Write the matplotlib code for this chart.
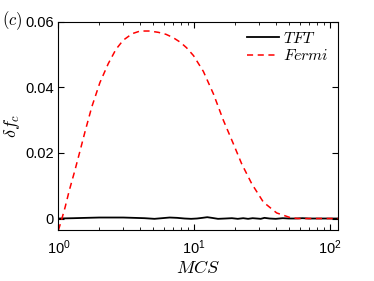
import numpy as np
import matplotlib.pyplot as plt

plt.rcParams['mathtext.fontset'] = 'cm'
plt.rcParams['font.family'] = 'Liberation Sans'

# data
mcs_fermi = [1.0, 1.06, 1.12, 1.2, 1.32, 1.45, 1.57, 1.76, 2.02, 2.33, 2.65, 3.0, 3.5, 4.0, 4.7, 5.45, 6.2, 7.0, 7.9, 8.8, 9.9, 11.7, 13.9, 16.4, 19.5, 22.4, 26.6, 32.4, 40.6, 51, 58, 70, 85, 100, 115]
fermi = [-0.0035, 0.0, 0.0035, 0.0085, 0.0146, 0.0210, 0.0265, 0.0340, 0.0414, 0.0472, 0.0515, 0.0543, 0.0563, 0.0571, 0.0571, 0.0567, 0.0561, 0.0551, 0.0537, 0.0520, 0.0496, 0.0448, 0.0379, 0.0300, 0.0227, 0.0167, 0.0106, 0.0050, 0.0017, 0.0003, 0.0, 0.0, 0.0, 0.0, 0.0]

mcs_tft = [1.0, 1.3, 1.6, 2.0, 2.5, 3.0, 3.6, 4.3, 5.1, 5.8, 6.6, 7.5, 8.5, 9.5, 10.5, 11.5, 12.5, 13.5, 15, 17, 19, 21, 23, 25, 27, 29, 31, 33, 36, 40, 45, 50, 56, 63, 70, 80, 90, 100, 115]
tft = [0.0, 0.0001, 0.0002, 0.0003, 0.0003, 0.0003, 0.0002, 0.0001, -0.0001, 0.0001, 0.0003, 0.0002, 0.0, -0.0001, 0.0, 0.0002, 0.0004, 0.0002, -0.0001, 0.0, 0.0001, -0.0001, 0.0001, -0.0001, 0.0001, 0.0, -0.0001, 0.0002, 0.0, -0.0001, 0.0001, 0.0, 0.0, 0.0001, 0.0, 0.0, 0.0, 0.0, 0.0]

fig = plt.figure(figsize=(3.74, 2.81), dpi=100)
ax = fig.add_axes([58.5/374, 1 - 230/281, (337.7-58.5)/374, (230-21.5)/281])

ax.plot(mcs_tft, tft, color='black', lw=1.3, label='$TFT$')
ax.plot(mcs_fermi, fermi, color='red', lw=1.1, ls=(0, (4, 3)), label='$Fermi$')

ax.set_xscale('log')
ax.set_xlim(1, 114.5)
ax.set_ylim(-0.0035, 0.06)
ax.set_yticks([0, 0.02, 0.04, 0.06])
ax.set_yticklabels(['0', '0.02', '0.04', '0.06'])
ax.tick_params(which='both', direction='in', top=True, right=True, labelsize=10.5)
ax.tick_params(axis='x', pad=6)
ax.tick_params(which='major', length=4)
ax.tick_params(which='minor', length=2)
for s in ax.spines.values():
    s.set_linewidth(0.8)

ax.set_xlabel('$MCS$', fontsize=13, labelpad=2)
ax.set_ylabel(r'$\delta f_c$', fontsize=13, labelpad=2)
fig.text(2/374, 1 - 21/281, '$(c)$', fontsize=12, va='center')

ax.legend(loc='upper right', frameon=False, fontsize=11.5, handlelength=2.0,
          borderaxespad=0.2, labelspacing=0.15, handletextpad=0.2)

fig.savefig('out.png', dpi=100)
